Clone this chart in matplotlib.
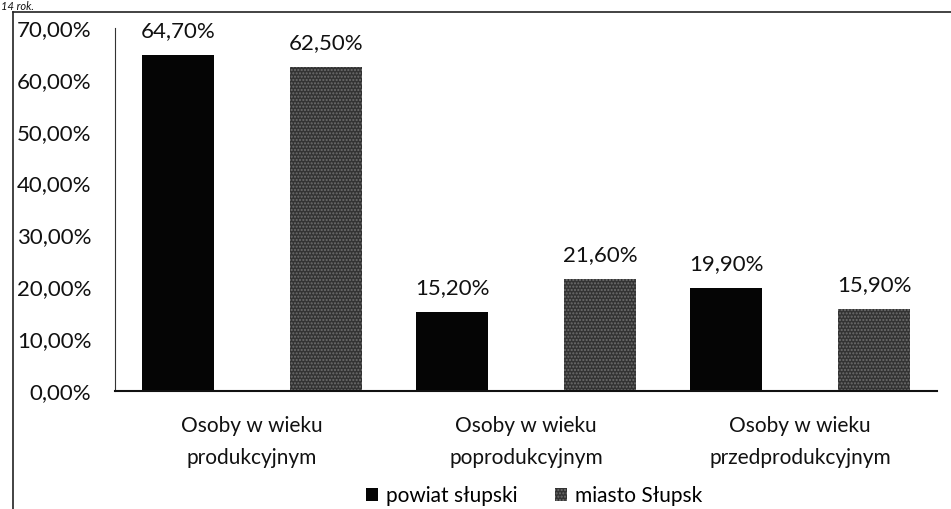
import numpy as np
import matplotlib
matplotlib.use("Agg")
from matplotlib import pyplot as plt
from matplotlib.lines import Line2D

# data
categories = ["Osoby w wieku\nprodukcyjnym",
              "Osoby w wieku\npoprodukcyjnym",
              "Osoby w wieku\nprzedprodukcyjnym"]
powiat = [64.7, 15.2, 19.9]
miasto = [62.5, 21.6, 15.9]
series_names = ["powiat słupski", "miasto Słupsk"]
yticks = [0, 10, 20, 30, 40, 50, 60, 70]

plt.rcParams['font.family'] = ['Lato', 'DejaVu Sans']

fig = plt.figure(figsize=(9.51, 5.09), dpi=100)
ax = fig.add_axes([0.1209, 0.2318, 0.8644, 0.7132])

x = np.arange(len(categories))
w = 0.26
off = 0.27
b1 = ax.bar(x - off, powiat, w, color='#050505', label=series_names[0])
b2 = ax.bar(x + off, miasto, w, color='#333333', edgecolor='#6e6e6e',
            hatch='.....', linewidth=0, label=series_names[1])

def fmt(v):
    return ('%.2f%%' % v).replace('.', ',')

for bars, vals in ((b1, powiat), (b2, miasto)):
    for r, v in zip(bars, vals):
        ax.annotate(fmt(v), (r.get_x() + r.get_width() / 2, v),
                    xytext=(0, 10), textcoords='offset points',
                    ha='center', va='bottom', fontsize=16, color='#111')

ax.set_xlim(-0.5, len(categories) - 0.5)
ax.set_ylim(0, 70)
ax.set_yticks(yticks)
ax.set_yticklabels([fmt(t) for t in yticks], fontsize=16, color='#111')
ax.set_xticks(x)
ax.set_xticklabels(categories, fontsize=15, color='#111', linespacing=1.75)
ax.tick_params(axis='both', length=0)
ax.tick_params(axis='y', pad=17)
ax.tick_params(axis='x', pad=18)
for s in ('top', 'right'):
    ax.spines[s].set_visible(False)
ax.spines['left'].set_color('#333')
ax.spines['bottom'].set_color('#111')
ax.spines['bottom'].set_linewidth(1.5)

ax.legend(loc='upper center', bbox_to_anchor=(0.51, -0.262), ncol=2,
          frameon=False, fontsize=15, handlelength=0.55, handleheight=0.55,
          handletextpad=0.4, columnspacing=1.8, borderaxespad=0,
          borderpad=0)

# scanned page frame and caption at the top edge
fig.add_artist(Line2D([13 / 951, 13 / 951], [0, 1 - 12 / 509],
                      transform=fig.transFigure, color='#222', lw=1.2))
fig.add_artist(Line2D([13 / 951, 1], [1 - 12 / 509, 1 - 12 / 509],
                      transform=fig.transFigure, color='#222', lw=1.2))
fig.text(1 / 951, 1 - 1 / 509, "14 rok.", ha='left', va='top',
         fontsize=8, style='italic', color='#111')

fig.savefig("out.png", dpi=100)
